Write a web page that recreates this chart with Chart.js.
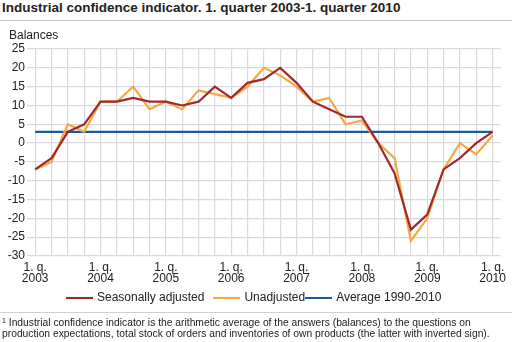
<!DOCTYPE html>
<html lang="en">
<head>
    <meta charset="UTF-8">
    <title>Industrial confidence indicator</title>
    <script src="https://cdn.jsdelivr.net/npm/chart.js"></script>
    <style>
        body {
            font-family: 'Liberation Sans', Arial, sans-serif;
            margin: 0;
            padding: 0;
            background: #fff;
            color: #222;
        }
        .page {
            position: relative;
            width: 512px;
            height: 342px;
            overflow: hidden;
        }
        .title {
            position: absolute;
            left: 2px;
            top: 0px;
            font-size: 13.5px;
            font-weight: bold;
            color: #222;
            white-space: nowrap;
        }
        .rule {
            position: absolute;
            left: 0;
            width: 512px;
            height: 1px;
            background: #c4c4c4;
        }
        .unit {
            position: absolute;
            left: 9px;
            top: 28px;
            font-size: 12px;
        }
        .chart-box {
            position: absolute;
            left: 0;
            top: 0;
            width: 512px;
            height: 342px;
        }
        .legend {
            position: absolute;
            top: 289px;
            left: 66px;
            font-size: 12px;
            white-space: nowrap;
        }
        .legend span.item {
            display: inline-block;
            vertical-align: middle;
        }
        .legend span.swatch {
            display: inline-block;
            width: 27px;
            height: 2px;
            vertical-align: middle;
            margin-right: 4px;
        }
        .note {
            position: absolute;
            left: 2px;
            top: 315px;
            font-size: 10.3px;
            line-height: 11px;
            white-space: nowrap;
        }
        .note sup {
            font-size: 7px;
            vertical-align: 3px;
        }
    </style>
</head>
<body>
<div class="page">
    <div class="title">Industrial confidence indicator. 1. quarter 2003-1. quarter 2010</div>
    <div class="rule" style="top:20px"></div>
    <div class="chart-box"><canvas id="chart"></canvas></div>
    <div class="unit">Balances</div>
    <div class="legend" id="legend"></div>
    <div class="rule" style="top:312px;background:#cfcfcf"></div>
    <div class="note"><sup>1</sup> Industrial confidence indicator is the arithmetic average of the answers (balances) to the questions on<br>production expectations, total stock of orders and inventories of own products (the latter with inverted sign).</div>
</div>
<script>
    // quarters 2003Q1 .. 2010Q1
    const years = ['2003', '2003', '2003', '2003', '2004', '2004', '2004', '2004', '2005', '2005', '2005', '2005',
                   '2006', '2006', '2006', '2006', '2007', '2007', '2007', '2007', '2008', '2008', '2008', '2008',
                   '2009', '2009', '2009', '2009', '2010'];
    const quarters = [1, 2, 3, 4, 1, 2, 3, 4, 1, 2, 3, 4, 1, 2, 3, 4, 1, 2, 3, 4, 1, 2, 3, 4, 1, 2, 3, 4, 1];

    const seasonallyAdjusted = [-7, -4, 3, 5, 11, 11, 12, 11, 11, 10, 11, 15, 12, 16, 17, 20,
                                16, 11, 9, 7, 7, 0, -8, -23, -19, -7, -4, 0, 3];
    const unadjusted = [-7, -5, 5, 3, 11, 11, 15, 9, 11, 9, 14, 13, 12, 15, 20, 18,
                        15, 11, 12, 5, 6, 0, -4, -26, -20, -7, 0, -3, 2];
    const average = [3, 3, 3, 3, 3, 3, 3, 3, 3, 3, 3, 3, 3, 3, 3, 3,
                     3, 3, 3, 3, 3, 3, 3, 3, 3, 3, 3, 3, 3];

    const yTicks = { min: -30, max: 25, step: 5 };

    const series = [
        { label: 'Seasonally adjusted', data: seasonallyAdjusted, color: '#a3282a' },
        { label: 'Unadjusted', data: unadjusted, color: '#f6a843' },
        { label: 'Average 1990-2010', data: average, color: '#1b5a9c' }
    ];

    const labels = years.map((y, i) => quarters[i] + '. q. ' + y);

    new Chart(document.getElementById('chart'), {
        type: 'line',
        data: {
            labels: labels,
            datasets: series.map(s => ({
                label: s.label,
                data: s.data,
                borderColor: s.color,
                backgroundColor: s.color,
                borderWidth: 2.2,
                pointRadius: 0,
                tension: 0,
                fill: false
            }))
        },
        options: {
            responsive: true,
            maintainAspectRatio: false,
            animation: false,
            layout: { padding: { top: 49, right: 5, bottom: 56, left: 0 } },
            plugins: {
                legend: { display: false },
                tooltip: { enabled: false }
            },
            scales: {
                x: {
                    offset: true,
                    grid: { color: '#d9d9de', lineWidth: 1.2, drawTicks: false, offset: false },
                    border: { display: false },
                    afterFit: scale => { scale.height = 30; },
                    ticks: {
                        autoSkip: false,
                        maxRotation: 0,
                        padding: 6,
                        color: '#222',
                        font: { family: "'Liberation Sans', Arial", size: 12, lineHeight: 0.92 },
                        callback: (v, i) => quarters[i] === 1 ? ['1. q.', years[i]] : ''
                    }
                },
                y: {
                    min: yTicks.min,
                    max: yTicks.max,
                    grid: { color: '#d9d9de', lineWidth: 1.2, drawTicks: false },
                    border: { display: false },
                    afterFit: scale => { scale.width = 27; },
                    ticks: {
                        stepSize: yTicks.step,
                        padding: 2,
                        color: '#222',
                        font: { family: "'Liberation Sans', Arial", size: 12 }
                    }
                }
            }
        }
    });

    // legend row under the plot
    const legend = document.getElementById('legend');
    legend.innerHTML = series.map((s, i) =>
        `<span class="item" style="margin-right:${i === 1 ? 0 : 9}px"><span class="swatch" style="background:${s.color}"></span>${s.label}</span>`
    ).join('');
</script>
</body>
</html>
